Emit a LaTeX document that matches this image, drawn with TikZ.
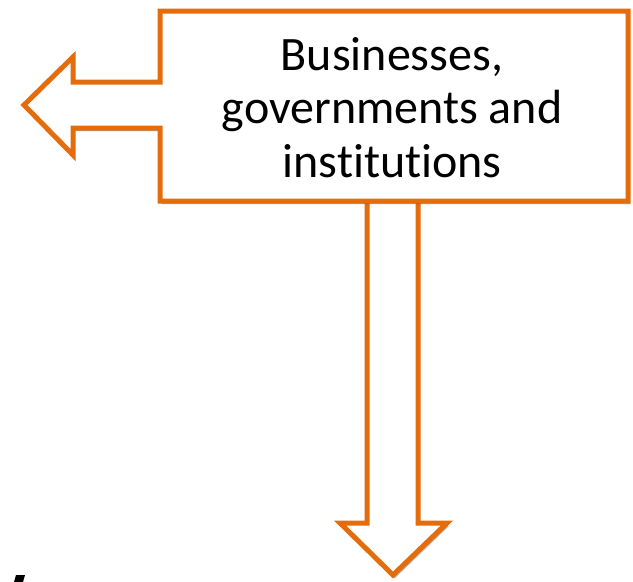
\documentclass[tikz,border=0pt]{standalone}
\usepackage{fontspec}
\setmainfont{Carlito}[RawFeature={-liga}]
\usetikzlibrary{shadows}
\definecolor{accent}{RGB}{228,108,10}
\begin{document}
\begin{tikzpicture}[x=1pt,y=-1pt,
  outline/.style={draw=accent, line width=5pt, fill=white, line join=miter,
    drop shadow={shadow xshift=2pt, shadow yshift=-3pt, opacity=0.3, fill=black}},
  label/.style={font=\fontsize{48}{54}\selectfont, text=black, inner sep=0pt, anchor=base}]
\useasboundingbox (0,0) rectangle (633,582);
% named corner points
\coordinate (boxNW) at (160,11);
\coordinate (boxSE) at (628,201);
\coordinate (lefttip) at (24,105);
\coordinate (downtip) at (393,575);
% downward block arrow (open at the top, under the box)
\path[outline] (367,201) -- (367,523) -- (340,523) -- (downtip) -- (447,523) -- (418,523) -- (418,201);
% box joined with the leftward block arrow
\path[outline] (160,82) -- (boxNW) -- (628,11) -- (boxSE) -- (160,201) -- (160,128)
  -- (73,128) -- (73,155) -- (lefttip) -- (73,57) -- (73,82) -- cycle;
% text
\node[label] (t1) at (392,70) {Businesses,};
\node[label] (t2) at (392,123) {governments and};
\node[label] (t3) at (392,177) {ins\kern0pt ti\kern0pt tu\kern0pt tions};
% cropped fragment at the lower left
\fill[black] (16,575) -- (25,575) -- (23,582) -- (14,582) -- cycle;
\end{tikzpicture}
\end{document}
